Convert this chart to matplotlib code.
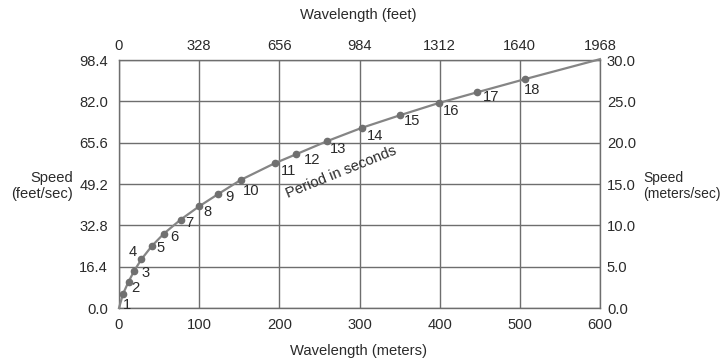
import matplotlib
matplotlib.use("Agg")
import matplotlib.pyplot as plt

# ---- data ----
periods = list(range(1, 19))
wavelength_m = [5, 12, 19, 28, 41, 56, 77, 100, 124, 152, 194, 221, 260, 303, 350, 399, 447, 507]
speed_ms = [1.7, 3.2, 4.5, 5.9, 7.5, 9.0, 10.7, 12.3, 13.8, 15.5, 17.5, 18.6, 20.2, 21.8, 23.3, 24.8, 26.1, 27.7]
curve_start = (0, 0.0)
curve_end = (600, 30.1)

x_ticks_m = [0, 100, 200, 300, 400, 500, 600]
x_ticks_ft = ["0", "328", "656", "984", "1312", "1640", "1968"]
y_ticks_ms = [0, 5, 10, 15, 20, 25, 30]
y_labels_ms = ["0.0", "5.0", "10.0", "15.0", "20.0", "25.0", "30.0"]
y_labels_fts = ["0.0", "16.4", "32.8", "49.2", "65.6", "82.0", "98.4"]

# label offsets (pixels) for period labels
label_offsets = [(4, -11), (7, -6), (11, -2), (-9, 7), (9, -2), (10, -3), (9, -3), (8, -6),
                 (11, -3), (10, -11), (14, -8), (16, -6), (11, -8), (13, -8), (12, -6),
                 (12, -8), (14, -5), (7, -11)]

plt.rcParams['font.family'] = ['Liberation Sans', 'DejaVu Sans']
grey = "#6e6e6e"
line_grey = "#858585"
txt = "#2a2a2a"
fs = 10.6

fig = plt.figure(figsize=(7.25, 3.61), dpi=100)
ax = fig.add_axes([119 / 725, 1 - 308 / 361, 481 / 725, 248 / 361])
ax.set_xlim(0, 600)
ax.set_ylim(0, 30)

for s in ax.spines.values():
    s.set_color(grey)
    s.set_linewidth(1.0)

ax.set_xticks(x_ticks_m)
ax.set_xticklabels([str(v) for v in x_ticks_m])
ax.set_yticks(y_ticks_ms)
ax.set_yticklabels(y_labels_fts)
ax.grid(True, color=grey, linewidth=1.0)
ax.tick_params(axis='both', length=0, labelsize=fs, colors=txt)
ax.tick_params(axis='x', pad=7)
ax.tick_params(axis='y', pad=8)

axr = ax.twinx()
axr.set_ylim(ax.get_ylim())
axr.set_yticks(y_ticks_ms)
axr.set_yticklabels(y_labels_ms)
axr.tick_params(axis='y', length=0, labelsize=fs, colors=txt, pad=5)
for s in axr.spines.values():
    s.set_visible(False)

axt = ax.twiny()
axt.set_xlim(ax.get_xlim())
axt.set_xticks(x_ticks_m)
axt.set_xticklabels(x_ticks_ft)
axt.tick_params(axis='x', length=0, labelsize=fs, colors=txt, pad=5)
for s in axt.spines.values():
    s.set_visible(False)

cx = [curve_start[0]] + wavelength_m + [curve_end[0]]
cy = [curve_start[1]] + speed_ms + [curve_end[1]]
ax.plot(cx, cy, color=line_grey, linewidth=1.6, zorder=3, clip_on=False)
ax.plot(wavelength_m, speed_ms, 'o', color="#707070", markersize=4.5, zorder=4, clip_on=False)

for p, x, y, off in zip(periods, wavelength_m, speed_ms, label_offsets):
    ax.annotate(str(p), (x, y), xytext=off, textcoords='offset pixels',
                ha='center', va='center', fontsize=fs, color=txt, zorder=5)

ax.text(277, 16.4, "Period in seconds", rotation=22, ha='center', va='center',
        fontsize=fs, color=txt, rotation_mode='anchor')

fig.text(358 / 725, 1 - 15 / 361, "Wavelength (feet)", ha='center', va='center', fontsize=fs, color=txt)
fig.text(358 / 725, 1 - 351 / 361, "Wavelength (meters)", ha='center', va='center', fontsize=fs, color=txt)
fig.text(73 / 725, 1 - 186 / 361, "Speed\n(feet/sec)", ha='right', va='center', fontsize=fs,
         color=txt, multialignment='right', linespacing=1.2)
fig.text(643 / 725, 1 - 186 / 361, "Speed\n(meters/sec)", ha='left', va='center', fontsize=10.0,
         color=txt, multialignment='left', linespacing=1.25)

fig.savefig("out.png", dpi=100, facecolor="white")
